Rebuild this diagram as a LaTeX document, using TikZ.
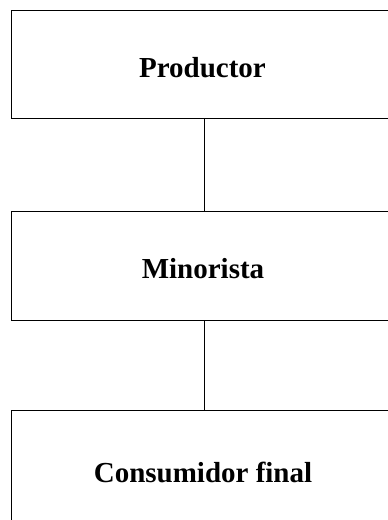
\documentclass[tikz,border=0pt]{standalone}
\usepackage{fontspec}
\setmainfont{Liberation Serif}
\begin{document}
\begin{tikzpicture}[x=1pt,y=1pt,
  boxstyle/.style={draw=black,line width=1.3pt,rectangle,minimum width=386pt,inner sep=0pt,anchor=north west},
  labelstyle/.style={font=\fontsize{29}{34}\selectfont\bfseries,anchor=base,inner sep=0pt},
  linkstyle/.style={draw=black,line width=1.1pt}]
\useasboundingbox (0,0) rectangle (388,520);
\clip (0,0) rectangle (388,520);
\node[boxstyle,minimum height=108pt] (prod) at (10.5,510) {};
\node[boxstyle,minimum height=109pt] (mino) at (10.5,309) {};
\node[boxstyle,minimum height=120pt] (cons) at (10.5,110) {};
\node[labelstyle] (tprod) at (202.5,442) {Productor};
\node[labelstyle] (tmino) at (203,241) {Minorista};
\node[labelstyle] (tcons) at (203,37) {Consumidor final};
\draw[linkstyle] (prod.south) -- (mino.north);
\draw[linkstyle] (mino.south) -- (cons.north);
\end{tikzpicture}
\end{document}
